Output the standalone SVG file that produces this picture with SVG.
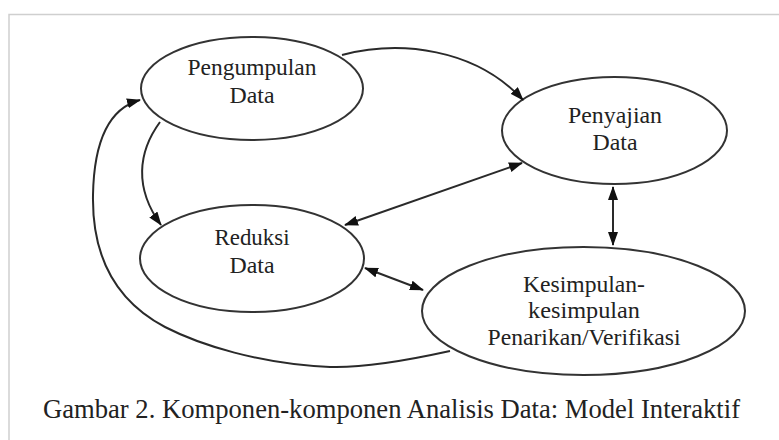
<svg xmlns="http://www.w3.org/2000/svg" width="779" height="440" viewBox="0 0 779 440">
<style>
.node{fill:#fff;stroke:#333;stroke-width:2}
.lbl{font-family:"Liberation Serif","Times New Roman",serif;font-size:24px;fill:#222;text-anchor:middle}
.edge{fill:none;stroke:#2a2a2a;stroke-width:2}
.frame{stroke:#cfcfcf;stroke-width:1.5;fill:none}
.cap{font-family:"Liberation Serif","Times New Roman",serif;font-size:28px;fill:#222}
</style>
<defs>
<marker id="ah" viewBox="0 0 14 10" refX="13" refY="5" markerWidth="14" markerHeight="10" markerUnits="userSpaceOnUse" orient="auto-start-reverse">
<path d="M0,0 L14,5 L0,10 z" fill="#111"/>
</marker>
</defs>
<rect width="779" height="440" fill="#fff"/>
<path class="frame" d="M9,440 V14.5 H779"/>

<g id="n-pengumpulan">
<ellipse class="node" cx="252" cy="88.5" rx="111" ry="51.5"/>
<text class="lbl" x="252" y="75" textLength="129" lengthAdjust="spacingAndGlyphs">Pengumpulan</text>
<text class="lbl" x="252" y="103" textLength="45" lengthAdjust="spacingAndGlyphs">Data</text>
</g>
<g id="n-penyajian">
<ellipse class="node" cx="614.5" cy="130.5" rx="112.5" ry="53.5"/>
<text class="lbl" x="615" y="123" textLength="94" lengthAdjust="spacingAndGlyphs">Penyajian</text>
<text class="lbl" x="615" y="150" textLength="45" lengthAdjust="spacingAndGlyphs">Data</text>
</g>
<g id="n-reduksi">
<ellipse class="node" cx="252" cy="258.5" rx="112" ry="53.5"/>
<text class="lbl" x="252" y="245" textLength="75" lengthAdjust="spacingAndGlyphs">Reduksi</text>
<text class="lbl" x="252" y="273" textLength="45" lengthAdjust="spacingAndGlyphs">Data</text>
</g>
<g id="n-kesimpulan">
<ellipse class="node" cx="583.5" cy="311" rx="161.5" ry="64"/>
<text class="lbl" x="584" y="292" textLength="122" lengthAdjust="spacingAndGlyphs">Kesimpulan-</text>
<text class="lbl" x="584" y="318" textLength="112" lengthAdjust="spacingAndGlyphs">kesimpulan</text>
<text class="lbl" x="584" y="345" textLength="193" lengthAdjust="spacingAndGlyphs">Penarikan/Verifikasi</text>
</g>

<g id="connectors">
<path class="edge" d="M342,55 C400,40 475,48 523,100" marker-end="url(#ah)"/>
<path class="edge" d="M160,122 C138,152 134,188 161,225" marker-end="url(#ah)"/>
<path class="edge" d="M345,225 L522,163" marker-start="url(#ah)" marker-end="url(#ah)"/>
<path class="edge" d="M613,187 L613,245" marker-start="url(#ah)" marker-end="url(#ah)"/>
<path class="edge" d="M365,268 L423,290" marker-start="url(#ah)" marker-end="url(#ah)"/>
<path class="edge" d="M450,351 C400,362 360,368 330,367 C260,364 200,345 165,327 C110,298 92,250 93,195 C94,140 110,108 140,100" marker-end="url(#ah)"/>
</g>

<text class="cap" x="43" y="418" textLength="697" lengthAdjust="spacingAndGlyphs">Gambar 2. Komponen-komponen Analisis Data: Model Interaktif</text>
</svg>
